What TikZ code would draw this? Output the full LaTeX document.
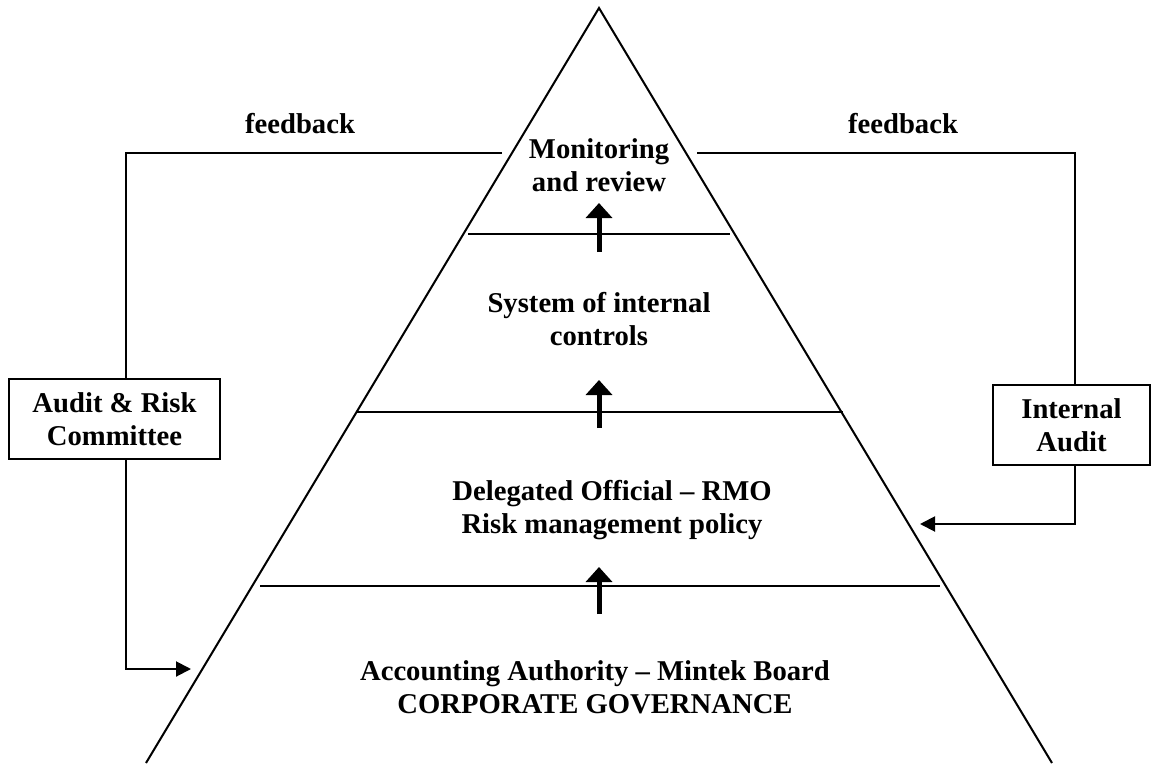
\documentclass[tikz,border=0pt]{standalone}
\usepackage{fontspec}
\setmainfont{Liberation Serif}
\usetikzlibrary{arrows.meta}
\begin{document}
\begin{tikzpicture}[x=0.75pt,y=-0.75pt,
  txt/.style={font=\bfseries\fontsize{21.5}{24.5}\selectfont, inner sep=0pt, align=center},
  lbl/.style={txt, anchor=base},
  thinline/.style={line width=1.5pt},
  thinarrow/.style={line width=1.5pt, -{Triangle[length=11.25pt,width=11.25pt]}},
  uparrow/.style={line width=3.75pt, -{Triangle[length=11.25pt,width=19.5pt]}},
  sidebox/.style={txt, draw, line width=1.5pt, minimum height=60pt}]
\useasboundingbox (0,0) rectangle (1151,763);
% pyramid
\coordinate (apex) at (599,8);
\coordinate (bl) at (146,763);
\coordinate (br) at (1052,763);
\draw[thinline, line join=miter] (bl) -- (apex) -- (br);
% layer lines
\coordinate (l1a) at (468,234); \coordinate (l1b) at (730,234);
\coordinate (l2a) at (356,412); \coordinate (l2b) at (843,412);
\coordinate (l3a) at (260,586); \coordinate (l3b) at (940,586);
\draw[thinline] (l1a) -- (l1b);
\draw[thinline] (l2a) -- (l2b);
\draw[thinline] (l3a) -- (l3b);
% layer texts (base anchor = baseline of last line)
\node[lbl] (mon) at (599,191) {Monitoring\\and review};
\node[lbl] (sys) at (599,345) {System of internal\\controls};
\node[lbl] (del) at (612,533) {Delegated Official -- RMO\\Risk management policy};
\node[lbl] (acc) at (595,713) {Accounting Authority -- Mintek Board\\CORPORATE GOVERNANCE};
% up arrows
\coordinate (a1s) at (599,252); \coordinate (a1e) at (599,203);
\coordinate (a2s) at (599,428); \coordinate (a2e) at (599,380);
\coordinate (a3s) at (599,614); \coordinate (a3e) at (599,567);
\draw[uparrow] (a1s) -- (a1e);
\draw[uparrow] (a2s) -- (a2e);
\draw[uparrow] (a3s) -- (a3e);
% side boxes
\node[sidebox, minimum width=158.25pt] (arc) at (114.5,419) {Audit \& Risk\\Committee};
\node[sidebox, minimum width=117.75pt] (ia) at (1071.5,425) {Internal\\Audit};
% feedback labels
\node[lbl] (fbl) at (300,133) {feedback};
\node[lbl] (fbr) at (903,133) {feedback};
% left feedback loop
\coordinate (fL1) at (502,153);
\coordinate (fL2) at (126,153);
\coordinate (fL3) at (126,669);
\coordinate (fL4) at (191,669);
\draw[thinline] (fL1) -- (fL2) -- (fL2 |- arc.north);
\draw[thinarrow] (fL3 |- arc.south) -- (fL3) -- (fL4);
% right feedback loop
\coordinate (fR1) at (697,153);
\coordinate (fR2) at (1075,153);
\coordinate (fR3) at (1075,524);
\coordinate (fR4) at (920,524);
\draw[thinline] (fR1) -- (fR2) -- (fR2 |- ia.north);
\draw[thinarrow] (fR3 |- ia.south) -- (fR3) -- (fR4);
\end{tikzpicture}
\end{document}
